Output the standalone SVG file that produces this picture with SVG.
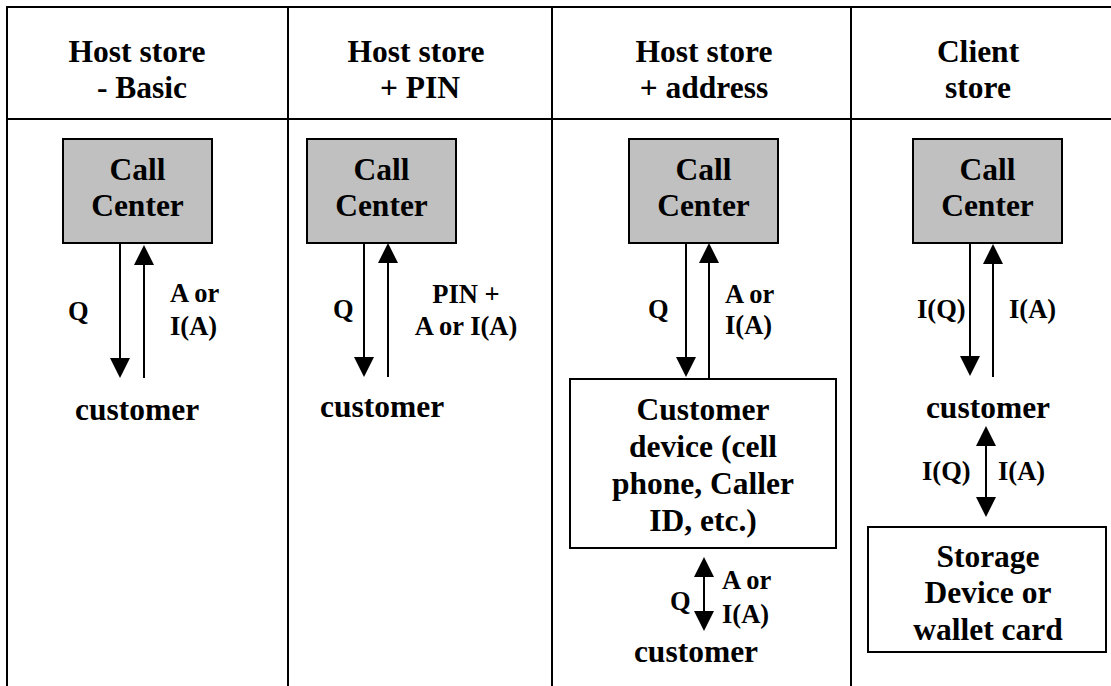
<svg xmlns="http://www.w3.org/2000/svg" width="1111" height="686" viewBox="0 0 1111 686">
  <defs>
    <!-- solid arrowhead; the tip sits 4px beyond the line end -->
    <marker id="head" viewBox="0 0 20 20" refX="16" refY="10" markerWidth="20" markerHeight="20" markerUnits="userSpaceOnUse" orient="auto-start-reverse">
      <path d="M0,0 L20,10 L0,20 z" fill="#000"/>
    </marker>
  </defs>
  <style>
    .grid { stroke: #000; stroke-width: 2; fill: none; }
    .cc { fill: #c0c0c0; stroke: #000; stroke-width: 2; }
    .box { fill: #fff; stroke: #000; stroke-width: 2; }
    .big { font-family: "Liberation Serif", "Times New Roman", serif; font-weight: bold; font-size: 31.5px; fill: #000; }
    .lbl { font-family: "Liberation Serif", "Times New Roman", serif; font-weight: bold; font-size: 26.5px; fill: #000; }
    .mid { text-anchor: middle; }
    .arr { stroke: #000; stroke-width: 2; fill: none; marker-end: url(#head); }
    .arr2 { stroke: #000; stroke-width: 2; fill: none; marker-start: url(#head); marker-end: url(#head); }
  </style>
  <rect width="1111" height="686" fill="#fff"/>

  <!-- table rules -->
  <g id="table">
    <line class="grid" x1="6" y1="7" x2="1111" y2="7"/>
    <line class="grid" x1="6" y1="119" x2="1111" y2="119"/>
    <line class="grid" x1="7" y1="6" x2="7" y2="686"/>
    <line class="grid" x1="288" y1="6" x2="288" y2="686"/>
    <line class="grid" x1="552" y1="6" x2="552" y2="686"/>
    <line class="grid" x1="851" y1="6" x2="851" y2="686"/>
  </g>

  <!-- column headings -->
  <g id="headings">
    <text class="big" x="137" y="62" text-anchor="middle">Host store</text>
    <text class="big" x="142" y="98" text-anchor="middle">- Basic</text>
    <text class="big" x="416" y="62" text-anchor="middle">Host store</text>
    <text class="big" x="420" y="98" text-anchor="middle">+ PIN</text>
    <text class="big" x="704" y="62" text-anchor="middle">Host store</text>
    <text class="big" x="704" y="98" text-anchor="middle">+ address</text>
    <text class="big" x="978" y="62" text-anchor="middle">Client</text>
    <text class="big" x="978" y="98" text-anchor="middle">store</text>
  </g>

  <!-- column 1: host store basic -->
  <g id="cc1">
    <rect class="cc" x="63" y="139" width="149" height="104"/>
    <text class="big mid" x="137.5" y="180">Call</text>
    <text class="big mid" x="137.5" y="216">Center</text>
  </g>
  <g id="cust1">
    <text class="big" x="75" y="420">customer</text>
  </g>

  <!-- column 2: host store + PIN -->
  <g id="cc2">
    <rect class="cc" x="307" y="139" width="149" height="104"/>
    <text class="big mid" x="381.5" y="180">Call</text>
    <text class="big mid" x="381.5" y="216">Center</text>
  </g>
  <g id="cust2">
    <text class="big" x="320" y="417">customer</text>
  </g>

  <!-- column 3: host store + address -->
  <g id="cc3">
    <rect class="cc" x="629" y="139" width="149" height="104"/>
    <text class="big mid" x="703.5" y="180">Call</text>
    <text class="big mid" x="703.5" y="216">Center</text>
  </g>
  <g id="device3">
    <rect class="box" x="570" y="379" width="266" height="169"/>
    <text class="big mid" x="703" y="420">Customer</text>
    <text class="big mid" x="703" y="457">device (cell</text>
    <text class="big mid" x="703" y="494">phone, Caller</text>
    <text class="big mid" x="703" y="531">ID, etc.)</text>
  </g>
  <g id="cust3">
    <text class="big mid" x="696" y="662">customer</text>
  </g>

  <!-- column 4: client store -->
  <g id="cc4">
    <rect class="cc" x="913" y="139" width="149" height="104"/>
    <text class="big mid" x="987.5" y="180">Call</text>
    <text class="big mid" x="987.5" y="216">Center</text>
  </g>
  <g id="cust4">
    <text class="big mid" x="988" y="418">customer</text>
  </g>
  <g id="storage4">
    <rect class="box" x="868" y="527" width="238" height="125"/>
    <text class="big mid" x="988" y="567">Storage</text>
    <text class="big mid" x="988" y="603">Device or</text>
    <text class="big mid" x="988" y="640">wallet card</text>
  </g>

  <!-- connectors and their labels -->
  <g id="connectors">
    <path class="arr" d="M120,243 V374"/>
    <path class="arr" d="M144,378 V249"/>
    <text class="lbl" x="68" y="320">Q</text>
    <text class="lbl" x="170" y="302">A or</text>
    <text class="lbl" x="170" y="335">I(A)</text>

    <path class="arr" d="M364,243 V373"/>
    <path class="arr" d="M388,377 V247"/>
    <text class="lbl" x="333" y="318">Q</text>
    <text class="lbl mid" x="466" y="303">PIN +</text>
    <text class="lbl mid" x="466" y="335">A or I(A)</text>

    <path class="arr" d="M686,243 V373"/>
    <path class="arr" d="M709,378 V247"/>
    <text class="lbl" x="648" y="318">Q</text>
    <text class="lbl" x="725" y="303">A or</text>
    <text class="lbl" x="725" y="334">I(A)</text>

    <path class="arr2" d="M704,561 V627"/>
    <text class="lbl" x="670" y="610">Q</text>
    <text class="lbl" x="722" y="589">A or</text>
    <text class="lbl" x="722" y="623">I(A)</text>

    <path class="arr" d="M970,243 V372"/>
    <path class="arr" d="M993,377 V248"/>
    <text class="lbl" x="917" y="318">I(Q)</text>
    <text class="lbl" x="1009" y="318">I(A)</text>

    <path class="arr2" d="M986,430 V513"/>
    <text class="lbl" x="922" y="480">I(Q)</text>
    <text class="lbl" x="998" y="480">I(A)</text>
  </g>
</svg>
